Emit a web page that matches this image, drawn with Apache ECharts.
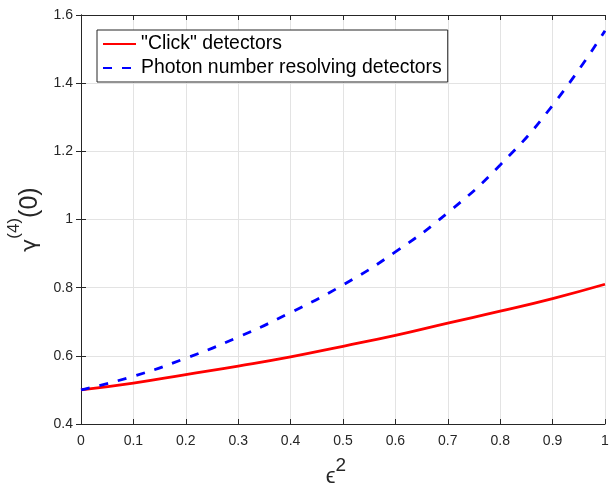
<!DOCTYPE html>
<html><head><meta charset="utf-8">
<script src="https://cdn.jsdelivr.net/npm/echarts@6/dist/echarts.min.js"></script>
<style>html,body{margin:0;padding:0;background:#fff}#c{width:616px;height:483px}</style>
</head><body><div id="c"></div>
<script>
const xValues = [0, 0.1, 0.2, 0.3, 0.4, 0.5, 0.6, 0.7, 0.8, 0.9, 1.0];
const clickValues = [0.500, 0.520, 0.545, 0.570, 0.597, 0.628, 0.660, 0.696, 0.731, 0.768, 0.810];
const pnrValues = [0.500, 0.540, 0.593, 0.655, 0.727, 0.808, 0.905, 1.020, 1.160, 1.335, 1.554];
const xTickLabels = ['0','0.1','0.2','0.3','0.4','0.5','0.6','0.7','0.8','0.9','1'];
const yTickLabels = ['0.4','0.6','0.8','1','1.2','1.4','1.6'];
const seriesNames = ['"Click" detectors', 'Photon number resolving detectors'];

const FONT = '"Liberation Sans", Arial, Helvetica, sans-serif';
const AX = '#262626';
const chart = echarts.init(document.getElementById('c'));
const pairs = (ys) => xValues.map((x, i) => [x, ys[i]]);
const tickAxisCommon = {
  axisLine: {show: true, lineStyle: {color: AX, width: 1}},
  axisTick: {show: true, inside: true, length: 5, lineStyle: {color: AX}},
};
chart.setOption({
  animation: false,
  backgroundColor: '#fff',
  grid: {left: 81, right: 11, top: 15, bottom: 59, show: false, containLabel: false, outerBoundsMode: 'none'},
  legend: {
    show: true, orient: 'vertical', left: 97, top: 30,
    padding: [4, 6, 4, 5], itemGap: 4, itemWidth: 33, itemHeight: 20,
    backgroundColor: '#fff', borderColor: AX, borderWidth: 1, borderRadius: 0,
    itemStyle: {color: 'rgba(0,0,0,0)', borderWidth: 0, opacity: 0},
    textStyle: {fontFamily: FONT, fontSize: 19.4, lineHeight: 20, color: '#000'},
    data: seriesNames
  },
  xAxis: [{
    type: 'value', min: 0, max: 1, interval: 0.1, position: 'bottom',
    ...tickAxisCommon,
    axisLabel: {fontFamily: FONT, fontSize: 14, color: AX, margin: 10,
      formatter: (v) => xTickLabels[Math.round(v / 0.1)]},
    splitLine: {show: true, lineStyle: {color: '#e3e3e3', width: 1}},
    name: '{e|ϵ}{s|2}', nameLocation: 'middle', nameGap: 32,
    nameTextStyle: {rich: {
      e: {fontFamily: FONT, fontSize: 22, color: AX},
      s: {fontFamily: FONT, fontSize: 19, color: AX, padding: [0, 14, 22, 0]}
    }}
  }, {
    type: 'value', min: 0, max: 1, interval: 0.1, position: 'top',
    ...tickAxisCommon, axisLabel: {show: false}, splitLine: {show: false}
  }],
  yAxis: [{
    type: 'value', min: 0.4, max: 1.6, interval: 0.2, position: 'left',
    ...tickAxisCommon,
    axisLabel: {fontFamily: FONT, fontSize: 14, color: AX, margin: 8,
      formatter: (v) => yTickLabels[Math.round((v - 0.4) / 0.2)]},
    splitLine: {show: true, lineStyle: {color: '#e3e3e3', width: 1}},
    name: '{g|γ}{s|(4)}{n|(0)}', nameLocation: 'middle', nameGap: 23, nameRotate: 90,
    nameTextStyle: {rich: {
      g: {fontFamily: '"DejaVu Sans", sans-serif', fontSize: 22, color: AX},
      s: {fontFamily: FONT, fontSize: 17, color: AX, padding: [0, 0, 32, 0]},
      n: {fontFamily: FONT, fontSize: 25, color: AX}
    }}
  }, {
    type: 'value', min: 0.4, max: 1.6, interval: 0.2, position: 'right',
    ...tickAxisCommon, axisLabel: {show: false}, splitLine: {show: false}
  }],
  series: [{
    name: seriesNames[0], type: 'line', xAxisIndex: 0, yAxisIndex: 0,
    data: pairs(clickValues), smooth: 0.5, showSymbol: false, symbol: 'none',
    lineStyle: {color: '#ff0000', width: 2.8}, itemStyle: {color: '#ff0000'}
  }, {
    name: seriesNames[1], type: 'line', xAxisIndex: 0, yAxisIndex: 0,
    data: pairs(pnrValues), smooth: 0.5, showSymbol: false, symbol: 'none',
    lineStyle: {color: '#0000ff', width: 2.8, type: [9, 10]}, itemStyle: {color: '#0000ff'}
  }]
});
</script></body></html>
